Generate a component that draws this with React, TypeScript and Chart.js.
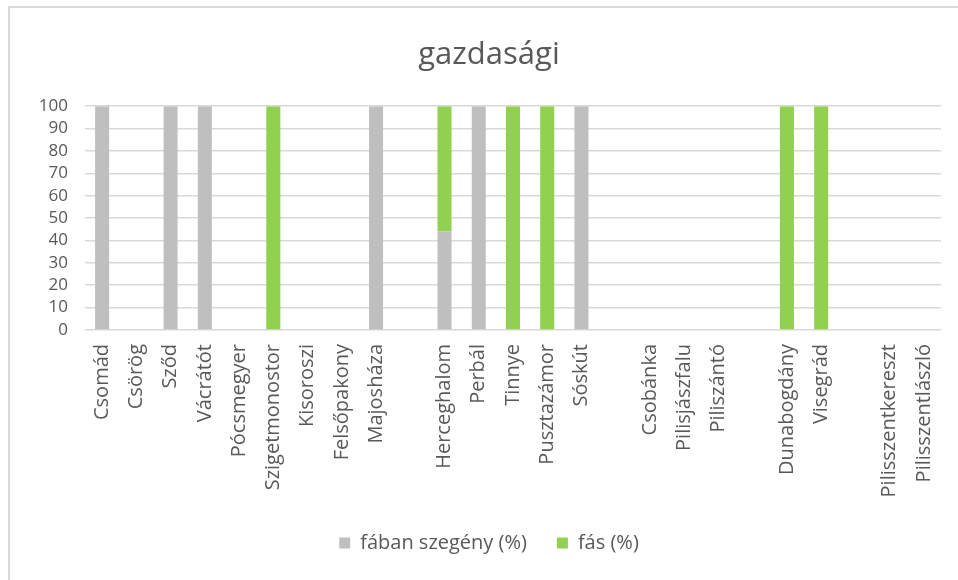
import React, { useEffect, useRef } from "react";
import { Chart, registerables } from "chart.js";

Chart.register(...registerables);

const title = "gazdasági";
const categories = [
  "Csomád", "Csörög", "Sződ", "Vácrátót", "Pócsmegyer", "Szigetmonostor",
  "Kisoroszi", "Felsőpakony", "Majosháza", "", "Herceghalom", "Perbál",
  "Tinnye", "Pusztazámor", "Sóskút", "", "Csobánka", "Pilisjászfalu",
  "Piliszántó", "", "Dunabogdány", "Visegrád", "", "Pilisszentkereszt",
  "Pilisszentlászló",
];
const seriesNames = ["fában szegény (%)", "fás (%)"];
const faban = [100, null, 100, 100, null, null, null, null, 100, null, 44, 100, null, null, 100, null, null, null, null, null, null, null, null, null, null];
const fas = [null, null, null, null, null, 100, null, null, null, null, 56, null, 100, 100, null, null, null, null, null, null, 100, 100, null, null, null];
const yTicks = [0, 10, 20, 30, 40, 50, 60, 70, 80, 90, 100];

const FONT = "'Open Sans'";
const TXT = "#595959";

const borderPlugin = {
  id: "frame",
  beforeDraw(chart: any) {
    const ctx = chart.ctx;
    ctx.save();
    ctx.fillStyle = "#ffffff";
    ctx.fillRect(0, 0, chart.width, chart.height);
    ctx.strokeStyle = "#d9d9d9";
    ctx.lineWidth = 2;
    ctx.strokeRect(9, 7, 2000, 2000);
    ctx.restore();
  },
};

export default function App() {
  const ref = useRef<HTMLCanvasElement>(null);
  useEffect(() => {
    document.body.style.margin = "0";
    const chart = new Chart(ref.current!, {
      type: "bar",
      data: {
        labels: categories,
        datasets: [
          { label: seriesNames[0], data: faban, backgroundColor: "#bfbfbf", barPercentage: 0.5, categoryPercentage: 0.82 },
          { label: seriesNames[1], data: fas, backgroundColor: "#92d050", barPercentage: 0.5, categoryPercentage: 0.82 },
        ],
      },
      options: {
        animation: false,
        responsive: false,
        layout: { padding: { left: 37, right: 17, top: 37, bottom: 17 } },
        plugins: {
          title: {
            display: true,
            text: title,
            color: TXT,
            font: { family: FONT, size: 31, weight: "normal" },
            padding: { top: 0, bottom: 32 },
          },
          legend: {
            position: "bottom",
            labels: {
              color: TXT,
              font: { family: FONT, size: 20 },
              boxWidth: 11,
              boxHeight: 11,
              padding: 30,
            },
          },
          tooltip: { enabled: false },
        },
        scales: {
          x: {
            stacked: true,
            grid: { display: false },
            border: { display: false },
            ticks: {
              color: TXT,
              font: { family: FONT, size: 20 },
              maxRotation: 90,
              minRotation: 90,
              autoSkip: false,
              padding: 6,
            },
            afterFit(scale: any) {
              scale.height = 173;
            },
          },
          y: {
            stacked: true,
            min: 0,
            max: 100,
            afterBuildTicks(scale: any) {
              scale.ticks = yTicks.map((v) => ({ value: v }));
            },
            grid: { color: "#d9d9d9", lineWidth: 1.5, drawTicks: false },
            border: { display: false },
            ticks: {
              color: TXT,
              font: { family: FONT, size: 17 },
              padding: 17,
              autoSkip: false,
            },
            afterFit(scale: any) {
              scale.width = 48;
            },
          },
        },
      },
      plugins: [borderPlugin],
    });
    return () => chart.destroy();
  }, []);
  return <canvas ref={ref} width={958} height={580} style={{ display: "block" }} />;
}
